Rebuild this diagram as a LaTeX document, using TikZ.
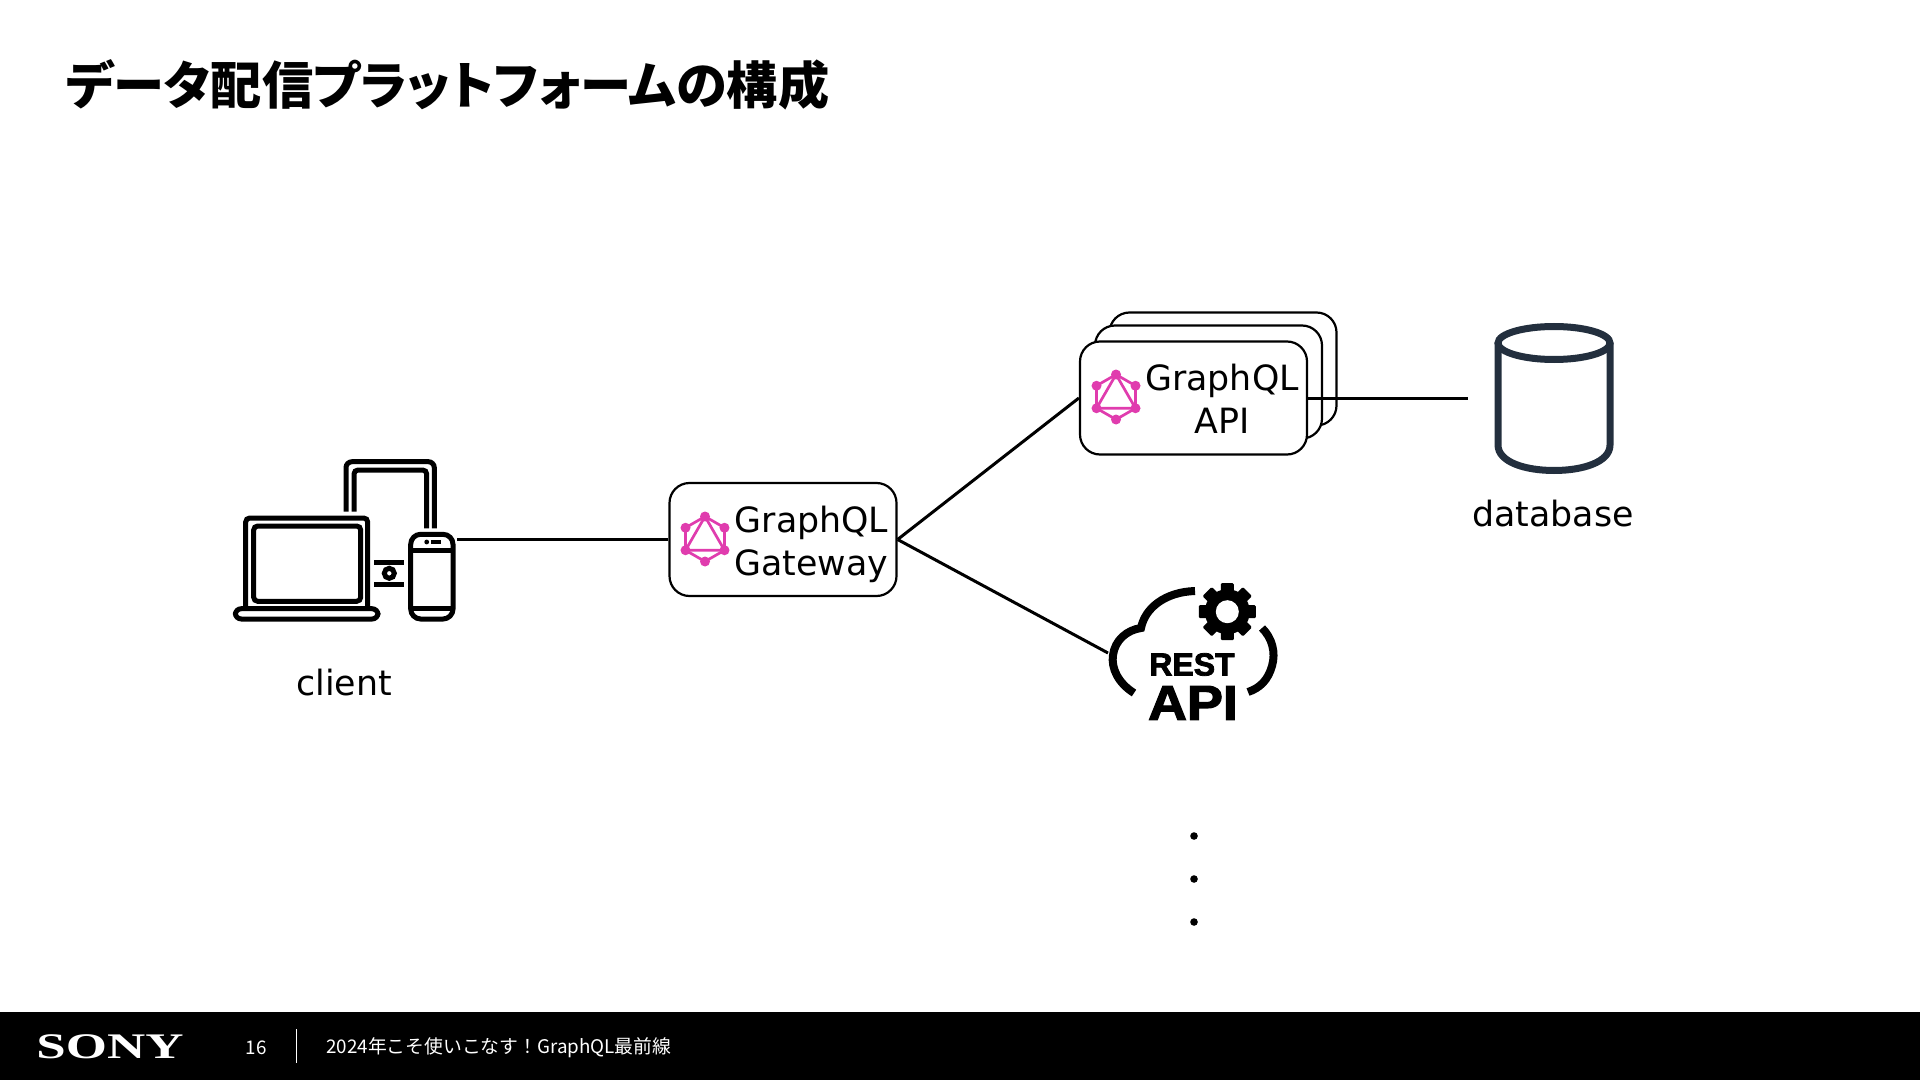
\documentclass[tikz,border=0pt]{standalone}
\usepackage{graphicx}
\usepackage{fontspec}
\setmainfont{DejaVu Sans}
\newfontfamily\cjkfont[BoldFont={Noto Sans CJK JP Black},BoldFeatures={RawFeature=+palt}]{Noto Sans CJK JP}
\newfontfamily\serifbold{Liberation Serif}
\newfontfamily\restfont[BoldFeatures={FakeBold=2.4}]{Liberation Sans}
\definecolor{gqlpink}{HTML}{E03CAE}
\definecolor{dbnavy}{HTML}{232F3E}
\tikzset{
  gqlicon/.pic={
    \draw[gqlpink,line width=1.35pt] (30:22.5)--(90:22.5)--(150:22.5)--(210:22.5)--(270:22.5)--(330:22.5)--cycle;
    \draw[gqlpink,line width=1.35pt] (270:22.5)--(30:22.5)--(150:22.5)--cycle;
    \foreach \a in {30,90,...,330}{\fill[gqlpink] (\a:22.5) circle[radius=5];}
  },
  gearicon/.pic={
    \foreach \a in {0,45,...,315}{\fill[black,rotate=\a,rounded corners=0.6pt] (-6.5,-28.5) rectangle (6.5,-15);}
    \fill[black] (0,0) circle[radius=22.5];
    \fill[white] (0,0) circle[radius=11.5];
  },
}
\begin{document}
\begin{tikzpicture}[
  x=0.5pt,y=-0.5pt,
  line/.style={draw=black,line width=1.5pt},
  box/.style={draw=black,line width=1.1pt,fill=white,rounded corners=10pt,minimum width=113.5pt,minimum height=56.5pt,inner sep=0pt},
  boxtext/.style={font=\fontsize{17.4}{21.5}\selectfont,align=center,text=black,inner sep=0pt},
  caption/.style={font=\fontsize{17.4}{20}\selectfont,text=black,inner sep=0pt},
  icon/.style={draw=black,line width=2.5pt},
  title/.style={font=\cjkfont\bfseries\fontsize{25.6}{30}\selectfont,text=black,inner sep=0pt},
  foot/.style={font=\cjkfont\fontsize{9.4}{12}\selectfont,text=white,inner sep=0pt},
]
\useasboundingbox (0,0) rectangle (1920,1080);
\node[title,anchor=west] (title) at (66,85) {データ配信プラットフォームの構成};

% client devices
\draw[icon,rounded corners=2pt] (245.7,608)--(245.7,518)--(367.7,518)--(367.7,608);
\draw[icon,rounded corners=2pt] (253.7,526) rectangle (360.7,601.3);
\draw[icon,rounded corners=3pt] (235.3,608.7) rectangle (378,619);
\draw[icon,rounded corners=3pt] (346,511.7)--(346,461.7)--(434.3,461.7)--(434.3,528.3);
\draw[icon,rounded corners=2pt] (354,511.7)--(354,470)--(426.7,470)--(426.7,528.3);
\draw[icon,rounded corners=5pt] (410.7,534.3) rectangle (453,619);
\draw[icon] (410.7,550)--(453,550) (410.7,608.7)--(453,608.7);
\fill[black] (426.7,542) circle[radius=2.4];
\fill[black] (430.7,540) rectangle (440.7,544.3);
\draw[icon] (374,562.7)--(404.3,562.7) (374,584.3)--(404.3,584.3);
\draw[black,line width=2.5pt] (389.3,573.3) circle[radius=5];
\coordinate (clientout) at (457,539.5);
\node[caption] (client) at (344,683) {client};

\node[box] (gateway) at (783,539.5) {};
\pic at (705,539) {gqlicon};
\node[boxtext] (gatewaytext) at (811.5,544.5) {GraphQL\\Gateway};

\node[box] (apiback) at (1223,369) {};
\node[box] (apimid) at (1208.5,382) {};
\node[box] (api) at (1193.5,398) {};
\pic at (1116,397) {gqlicon};
\node[boxtext] (apitext) at (1222,398.5) {GraphQL\\API};

% database
\draw[dbnavy,line width=3.5pt] (1554,343) ellipse[x radius=56,y radius=16.5];
\draw[dbnavy,line width=3.5pt] (1498,343)--(1498,445) .. controls (1498,462) and (1525,470.5) .. (1554,470.5) .. controls (1583,470.5) and (1610,462) .. (1610,445)--(1610,343);
\coordinate (dbin) at (1468,398);
\node[caption] (database) at (1553,513.5) {database};

% rest api
\draw[black,line width=4pt] (1134,693) .. controls (1118,683) and (1111,668) .. (1113,655) .. controls (1115,640) and (1127,630) .. (1141,628) .. controls (1145,608) and (1165,592) .. (1195,591);
\draw[black,line width=4pt] (1262,628) .. controls (1272,638) and (1276,652) .. (1272,666) .. controls (1268,680) and (1260,688) .. (1248,692);
\pic at (1227.3,611.7) {gearicon};
\node[font=\restfont\bfseries\fontsize{16}{16}\selectfont,inner sep=0pt] (resttext) at (1192,664.5) {REST};
\node[font=\restfont\bfseries\fontsize{24.5}{24.5}\selectfont,inner sep=0pt] (restapi) at (1193,703) {\scalebox{1.1}[1]{API}};
\coordinate (restin) at (1108,653);

\draw[line] (clientout)--(gateway.west);
\draw[line] (gateway.east)--(api.west);
\draw[line] (gateway.east)--(restin);
\draw[line] (api.east)--(dbin);

\foreach \y in {836,879,922}{\fill[black] (1194,\y) circle[radius=3.8];}

% footer
\fill[black] (0,1012) rectangle (1920,1080);
\node[text=white,inner sep=0pt,font=\serifbold\bfseries\fontsize{18}{18}\selectfont] (sony) at (110,1047) {\scalebox{1.47}[1]{SONY}};
\node[foot] (pageno) at (256,1048) {16};
\draw[white,line width=0.5pt] (296,1029)--(296,1063);
\node[foot,anchor=west] (foottext) at (326,1048) {2024年こそ使いこなす！GraphQL最前線};
\end{tikzpicture}
\end{document}
